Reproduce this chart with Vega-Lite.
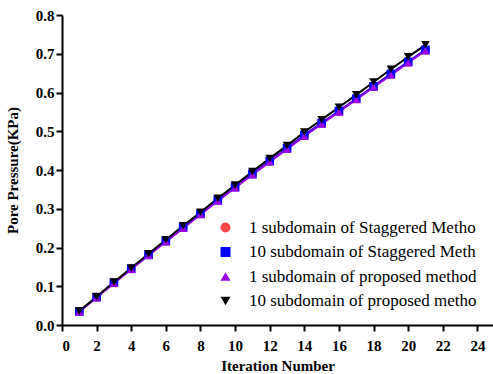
{
  "$schema": "https://vega.github.io/schema/vega-lite/v6.json",
  "width": 431,
  "height": 310,
  "autosize": {"type": "none"},
  "padding": {"left": 62, "top": 15, "right": 0, "bottom": 49},
  "background": "white",
  "config": {
    "view": {"stroke": null},
    "font": "Liberation Serif",
    "axis": {
      "grid": false,
      "domainColor": "black",
      "domainWidth": 2,
      "tickColor": "black",
      "tickWidth": 2,
      "tickSize": 6,
      "labelFont": "Liberation Serif",
      "labelFontWeight": "bold",
      "labelFontSize": 15,
      "labelColor": "black",
      "titleFont": "Liberation Serif",
      "titleFontWeight": "bold",
      "titleFontSize": 15,
      "titleColor": "black"
    }
  },
  "data": {
    "values": [
      {"s": "1 subdomain of Staggered Metho", "it": 1, "p": 0.035},
      {"s": "1 subdomain of Staggered Metho", "it": 2, "p": 0.072},
      {"s": "1 subdomain of Staggered Metho", "it": 3, "p": 0.109},
      {"s": "1 subdomain of Staggered Metho", "it": 4, "p": 0.145},
      {"s": "1 subdomain of Staggered Metho", "it": 5, "p": 0.181},
      {"s": "1 subdomain of Staggered Metho", "it": 6, "p": 0.217},
      {"s": "1 subdomain of Staggered Metho", "it": 7, "p": 0.252},
      {"s": "1 subdomain of Staggered Metho", "it": 8, "p": 0.287},
      {"s": "1 subdomain of Staggered Metho", "it": 9, "p": 0.322},
      {"s": "1 subdomain of Staggered Metho", "it": 10, "p": 0.356},
      {"s": "1 subdomain of Staggered Metho", "it": 11, "p": 0.390},
      {"s": "1 subdomain of Staggered Metho", "it": 12, "p": 0.423},
      {"s": "1 subdomain of Staggered Metho", "it": 13, "p": 0.456},
      {"s": "1 subdomain of Staggered Metho", "it": 14, "p": 0.490},
      {"s": "1 subdomain of Staggered Metho", "it": 15, "p": 0.521},
      {"s": "1 subdomain of Staggered Metho", "it": 16, "p": 0.552},
      {"s": "1 subdomain of Staggered Metho", "it": 17, "p": 0.584},
      {"s": "1 subdomain of Staggered Metho", "it": 18, "p": 0.616},
      {"s": "1 subdomain of Staggered Metho", "it": 19, "p": 0.648},
      {"s": "1 subdomain of Staggered Metho", "it": 20, "p": 0.679},
      {"s": "1 subdomain of Staggered Metho", "it": 21, "p": 0.710},
      {"s": "10 subdomain of Staggered Meth", "it": 1, "p": 0.035},
      {"s": "10 subdomain of Staggered Meth", "it": 2, "p": 0.072},
      {"s": "10 subdomain of Staggered Meth", "it": 3, "p": 0.109},
      {"s": "10 subdomain of Staggered Meth", "it": 4, "p": 0.145},
      {"s": "10 subdomain of Staggered Meth", "it": 5, "p": 0.181},
      {"s": "10 subdomain of Staggered Meth", "it": 6, "p": 0.217},
      {"s": "10 subdomain of Staggered Meth", "it": 7, "p": 0.252},
      {"s": "10 subdomain of Staggered Meth", "it": 8, "p": 0.287},
      {"s": "10 subdomain of Staggered Meth", "it": 9, "p": 0.322},
      {"s": "10 subdomain of Staggered Meth", "it": 10, "p": 0.356},
      {"s": "10 subdomain of Staggered Meth", "it": 11, "p": 0.390},
      {"s": "10 subdomain of Staggered Meth", "it": 12, "p": 0.423},
      {"s": "10 subdomain of Staggered Meth", "it": 13, "p": 0.456},
      {"s": "10 subdomain of Staggered Meth", "it": 14, "p": 0.490},
      {"s": "10 subdomain of Staggered Meth", "it": 15, "p": 0.521},
      {"s": "10 subdomain of Staggered Meth", "it": 16, "p": 0.552},
      {"s": "10 subdomain of Staggered Meth", "it": 17, "p": 0.584},
      {"s": "10 subdomain of Staggered Meth", "it": 18, "p": 0.616},
      {"s": "10 subdomain of Staggered Meth", "it": 19, "p": 0.648},
      {"s": "10 subdomain of Staggered Meth", "it": 20, "p": 0.679},
      {"s": "10 subdomain of Staggered Meth", "it": 21, "p": 0.710},
      {"s": "1 subdomain of proposed method", "it": 1, "p": 0.034},
      {"s": "1 subdomain of proposed method", "it": 2, "p": 0.071},
      {"s": "1 subdomain of proposed method", "it": 3, "p": 0.108},
      {"s": "1 subdomain of proposed method", "it": 4, "p": 0.144},
      {"s": "1 subdomain of proposed method", "it": 5, "p": 0.180},
      {"s": "1 subdomain of proposed method", "it": 6, "p": 0.215},
      {"s": "1 subdomain of proposed method", "it": 7, "p": 0.250},
      {"s": "1 subdomain of proposed method", "it": 8, "p": 0.285},
      {"s": "1 subdomain of proposed method", "it": 9, "p": 0.320},
      {"s": "1 subdomain of proposed method", "it": 10, "p": 0.354},
      {"s": "1 subdomain of proposed method", "it": 11, "p": 0.388},
      {"s": "1 subdomain of proposed method", "it": 12, "p": 0.421},
      {"s": "1 subdomain of proposed method", "it": 13, "p": 0.454},
      {"s": "1 subdomain of proposed method", "it": 14, "p": 0.487},
      {"s": "1 subdomain of proposed method", "it": 15, "p": 0.519},
      {"s": "1 subdomain of proposed method", "it": 16, "p": 0.550},
      {"s": "1 subdomain of proposed method", "it": 17, "p": 0.582},
      {"s": "1 subdomain of proposed method", "it": 18, "p": 0.614},
      {"s": "1 subdomain of proposed method", "it": 19, "p": 0.645},
      {"s": "1 subdomain of proposed method", "it": 20, "p": 0.677},
      {"s": "1 subdomain of proposed method", "it": 21, "p": 0.708},
      {"s": "10 subdomain of proposed metho", "it": 1, "p": 0.036},
      {"s": "10 subdomain of proposed metho", "it": 2, "p": 0.073},
      {"s": "10 subdomain of proposed metho", "it": 3, "p": 0.111},
      {"s": "10 subdomain of proposed metho", "it": 4, "p": 0.147},
      {"s": "10 subdomain of proposed metho", "it": 5, "p": 0.184},
      {"s": "10 subdomain of proposed metho", "it": 6, "p": 0.220},
      {"s": "10 subdomain of proposed metho", "it": 7, "p": 0.256},
      {"s": "10 subdomain of proposed metho", "it": 8, "p": 0.291},
      {"s": "10 subdomain of proposed metho", "it": 9, "p": 0.327},
      {"s": "10 subdomain of proposed metho", "it": 10, "p": 0.361},
      {"s": "10 subdomain of proposed metho", "it": 11, "p": 0.396},
      {"s": "10 subdomain of proposed metho", "it": 12, "p": 0.430},
      {"s": "10 subdomain of proposed metho", "it": 13, "p": 0.463},
      {"s": "10 subdomain of proposed metho", "it": 14, "p": 0.498},
      {"s": "10 subdomain of proposed metho", "it": 15, "p": 0.530},
      {"s": "10 subdomain of proposed metho", "it": 16, "p": 0.562},
      {"s": "10 subdomain of proposed metho", "it": 17, "p": 0.594},
      {"s": "10 subdomain of proposed metho", "it": 18, "p": 0.627},
      {"s": "10 subdomain of proposed metho", "it": 19, "p": 0.660},
      {"s": "10 subdomain of proposed metho", "it": 20, "p": 0.692},
      {"s": "10 subdomain of proposed metho", "it": 21, "p": 0.723}
    ]
  },
  "encoding": {
    "x": {
      "field": "it", "type": "quantitative",
      "scale": {"domain": [0, 24.9], "nice": false, "zero": false},
      "axis": {"values": [0, 2, 4, 6, 8, 10, 12, 14, 16, 18, 20, 22, 24], "title": "Iteration Number", "labelPadding": 7, "titlePadding": 5}
    },
    "y": {
      "field": "p", "type": "quantitative",
      "scale": {"domain": [0, 0.8], "nice": false},
      "axis": {"values": [0, 0.1, 0.2, 0.3, 0.4, 0.5, 0.6, 0.7, 0.8], "format": ".1f", "title": "Pore Pressure(KPa)", "labelPadding": 2, "titlePadding": 15}
    },
    "color": {
      "field": "s", "type": "nominal",
      "scale": {
        "domain": ["1 subdomain of Staggered Metho", "10 subdomain of Staggered Meth", "1 subdomain of proposed method", "10 subdomain of proposed metho"],
        "range": ["#ff4848", "#0000ff", "#9a00ea", "#000000"]
      },
      "legend": {
        "orient": "none",
        "legendX": 155,
        "legendY": 204,
        "title": null,
        "symbolSize": 100,
        "symbolStrokeWidth": 0,
        "labelOffset": 15,
        "labelFont": "Liberation Serif",
        "labelFontSize": 17,
        "labelColor": "black",
        "rowPadding": 6.5,
        "labelLimit": 300,
        "encode": {
          "symbols": {
            "update": {
              "shape": {"value": {"expr": "datum.value == '1 subdomain of Staggered Metho' ? 'M-2.6,-0.2H2.6V0.2H-2.6ZM-0.95,0A0.95,0.95 0 1,1 0.95,0A0.95,0.95 0 1,1 -0.95,0Z' : datum.value == '10 subdomain of Staggered Meth' ? 'M-2.6,-0.2H2.6V0.2H-2.6ZM-0.95,-0.95H0.95V0.95H-0.95Z' : datum.value == '1 subdomain of proposed method' ? 'M-2.6,-0.2H2.6V0.2H-2.6ZM0,-1L1.05,0.8L-1.05,0.8Z' : 'M-2.6,-0.2H2.6V0.2H-2.6ZM-1.05,-0.8L1.05,-0.8L0,1Z'"}},
              "fill": {"value": {"expr": "datum.value == '1 subdomain of Staggered Metho' ? '#ff4848' : datum.value == '10 subdomain of Staggered Meth' ? '#0000ff' : datum.value == '1 subdomain of proposed method' ? '#9a00ea' : '#000000'"}},
              "strokeWidth": {"value": 0},
              "opacity": {"value": 1}
            }
          }
        }
      }
    },
    "order": {"field": "it", "type": "quantitative"}
  },
  "layer": [
    {
      "mark": {"type": "line", "strokeWidth": 2},
      "encoding": {}
    },
    {
      "mark": {"type": "point", "filled": true, "opacity": 1, "size": 75},
      "encoding": {
        "shape": {
          "field": "s", "type": "nominal",
          "scale": {
            "domain": ["1 subdomain of Staggered Metho", "10 subdomain of Staggered Meth", "1 subdomain of proposed method", "10 subdomain of proposed metho"],
            "range": ["circle", "square", "triangle-up", "triangle-down"]
          },
          "legend": null
        }
      }
    }
  ]
}
